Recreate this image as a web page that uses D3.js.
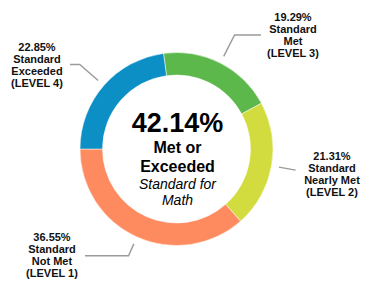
<!DOCTYPE html>
<html>
<head>
<meta charset="utf-8">
<script src="https://cdn.jsdelivr.net/npm/d3@7/dist/d3.min.js"></script>
<style>
    html, body { margin: 0; padding: 0; background: #fff; }
    svg { display: block; font-family: "Liberation Sans", Arial, sans-serif; }
    .lbl { font-size: 11px; font-weight: bold; fill: #111; text-anchor: middle; }
    .leader { fill: none; stroke: #9a9a9a; stroke-width: 1.4; }
</style>
</head>
<body>
<div id="chart"></div>
<script>
    // Data
    var levels = ["LEVEL 3", "LEVEL 2", "LEVEL 1", "LEVEL 4"];
    var names = [["Standard", "Met"], ["Standard", "Nearly Met"], ["Standard", "Not Met"], ["Standard", "Exceeded"]];
    var values = [19.29, 21.31, 36.55, 22.85];
    var colors = ["#5cb84a", "#d2dc3e", "#fe8b60", "#0b8fc5"];
    var centerTitle = "42.14%";
    var centerLines = ["Met or", "Exceeded"];
    var centerSub = ["Standard for", "Math"];

    // Layout
    var width = 369, height = 293;
    var cx = 176.5, cy = 149, outerR = 96.5, innerR = 74;
    // label anchors (center x, first baseline), elbow radius, end x of horizontal piece
    var labelLayout = [
        { x: 293, y: 21, elbowR: 128, endX: 261 },
        { x: 332, y: 159.5, elbowR: 121, endX: null },
        { x: 52, y: 241, elbowR: 117, endX: 85 },
        { x: 37, y: 51, elbowR: 128.5, endX: 70 }
    ];

    var svg = d3.select("#chart").append("svg")
        .attr("width", width)
        .attr("height", height);

    var total = d3.sum(values);
    // rotate so the Level 1 / Level 4 boundary sits on the left horizontal
    var offset = 1.5 * Math.PI - 2 * Math.PI * (values[0] + values[1] + values[2]) / total;

    var pie = d3.pie()
        .sort(null)
        .value(function(d) { return d; })
        .startAngle(offset)
        .endAngle(offset + 2 * Math.PI);
    var arcs = pie(values);

    var arc = d3.arc().innerRadius(innerR).outerRadius(outerR);

    var g = svg.append("g").attr("transform", "translate(" + cx + "," + cy + ")");
    g.selectAll("path.slice")
        .data(arcs)
        .enter()
        .append("path")
        .attr("class", "slice")
        .attr("d", arc)
        .attr("fill", function(d, i) { return colors[i]; })
        .attr("stroke", "#fff")
        .attr("stroke-width", 0.5);

    // leader lines
    var polar = function(r, a) { return [r * Math.sin(a), -r * Math.cos(a)]; };
    g.selectAll("path.leader")
        .data(arcs)
        .enter()
        .append("path")
        .attr("class", "leader")
        .attr("d", function(d, i) {
            var mid = (d.startAngle + d.endAngle) / 2;
            var L = labelLayout[i];
            var p0 = polar(104, mid), p1 = polar(L.elbowR, mid);
            var pts = [p0, p1];
            if (L.endX !== null) pts.push([L.endX - cx, p1[1]]);
            return d3.line()(pts);
        });

    // outer labels
    labelLayout.forEach(function(L, i) {
        var t = svg.append("text").attr("class", "lbl")
            .attr("x", L.x).attr("y", L.y);
        var lines = [values[i].toFixed(2) + "%"].concat(names[i]).concat(["(" + levels[i] + ")"]);
        lines.forEach(function(s, j) {
            t.append("tspan").attr("x", L.x).attr("dy", j === 0 ? 0 : 12).text(s);
        });
    });

    // center text
    var c = svg.append("g").attr("text-anchor", "middle").attr("fill", "#000");
    c.append("text").attr("x", cx + 1).attr("y", 131.5)
        .style("font-size", "27px").style("font-weight", "bold").text(centerTitle);
    [152.5, 171.5].forEach(function(y, j) {
        c.append("text").attr("x", cx + 1).attr("y", y)
            .style("font-size", "16px").style("font-weight", "bold").text(centerLines[j]);
    });
    [189, 204.5].forEach(function(y, j) {
        c.append("text").attr("x", cx + 1).attr("y", y)
            .style("font-size", "14px").style("font-style", "italic").text(centerSub[j]);
    });
</script>
</body>
</html>
